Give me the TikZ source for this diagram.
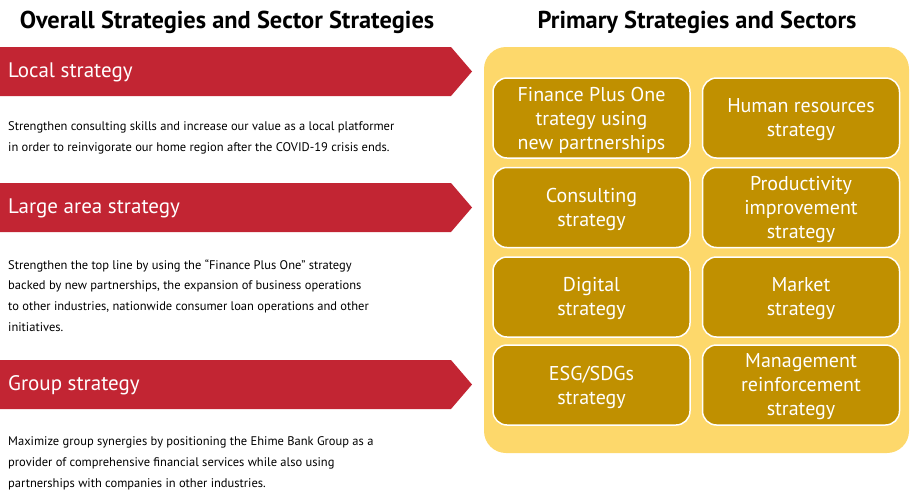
\documentclass[tikz,border=0pt]{standalone}
\usepackage{fontspec}
\setmainfont{PT Sans}
\definecolor{bannerred}{HTML}{C22533}
\definecolor{panelyellow}{HTML}{FDD86B}
\definecolor{boxgold}{HTML}{C09000}
\begin{document}
\begin{tikzpicture}[x=1pt,y=-1pt,
  banner/.style={fill=bannerred,draw=none},
  bannertext/.style={anchor=west,text=white,font=\fontsize{21}{24}\selectfont,inner sep=0pt},
  bodytext/.style={anchor=west,align=left,font=\fontsize{12.5}{20.8}\selectfont,inner sep=0pt},
  heading/.style={font=\bfseries\fontsize{24.4}{28}\selectfont,inner sep=0pt},
  goldbox/.style={fill=boxgold,draw=white,line width=1.5pt,rounded corners=14pt,minimum width=197pt,minimum height=80pt,
    text=white,align=center,font=\fontsize{20}{24}\selectfont,inner sep=0pt},
  boxlabel/.style={text=white,align=center,font=\fontsize{20}{24}\selectfont,inner sep=0pt}
]
\useasboundingbox (0,0) rectangle (918,491);
% headings
\node[heading] (h1) at (227,22) {Overall Strategies and Sector Strategies};
\node[heading] (h2) at (697,22) {Primary Strategies and Sectors};
% banners
\fill[banner] (0,47) -- (451,47) -- (472,71.5) -- (451,96) -- (0,96) -- cycle;
\fill[banner] (0,183) -- (451,183) -- (472,207.5) -- (451,232) -- (0,232) -- cycle;
\fill[banner] (0,360) -- (451,360) -- (472,384.5) -- (451,409) -- (0,409) -- cycle;
\node[bannertext] (b1) at (8,72.5) {Local strategy};
\node[bannertext] (b2) at (8,208.5) {Large area strategy};
\node[bannertext] (b3) at (8,385.5) {Group strategy};
% body texts
\node[bodytext] (t1) at (8,138) {Strengthen consulting skills and increase our value as a local platformer\\in order to reinvigorate our home region after the COVID-19 crisis ends.};
\node[bodytext] (t2) at (8,295.5) {Strengthen the top line by using the “Finance Plus One” strategy\\backed by new partnerships, the expansion of business operations\\to other industries, nationwide consumer loan operations and other\\initiatives.};
\node[bodytext] (t3) at (8,463) {Maximize group synergies by positioning the Ehime Bank Group as a\\provider of comprehensive financial services while also using\\partnerships with companies in other industries.};
% panel
\fill[panelyellow,rounded corners=22pt] (484,47) rectangle (909,453);
% boxes
\node[goldbox] (g1) at (591.5,118) {};
\node[goldbox] (g2) at (801,118) {};
\node[goldbox] (g3) at (591.5,207.5) {};
\node[goldbox] (g4) at (801,207.5) {};
\node[goldbox] (g5) at (591.5,297) {};
\node[goldbox] (g6) at (801,297) {};
\node[goldbox] (g7) at (591.5,385) {};
\node[goldbox] (g8) at (801,385) {};
\node[boxlabel] (l1) at ([yshift=-2pt]g1.center) {Finance Plus One\\trategy using\\new partnerships};
\node[boxlabel] (l2) at ([yshift=-2pt]g2.center) {Human resources\\strategy};
\node[boxlabel] (l3) at ([yshift=-2pt]g3.center) {Consulting\\strategy};
\node[boxlabel] (l4) at ([yshift=-2pt]g4.center) {Productivity\\improvement\\strategy};
\node[boxlabel] (l5) at ([yshift=-2pt]g5.center) {Digital\\strategy};
\node[boxlabel] (l6) at ([yshift=-2pt]g6.center) {Market\\strategy};
\node[boxlabel] (l7) at ([yshift=-2pt]g7.center) {ESG/SDGs\\strategy};
\node[boxlabel] (l8) at ([yshift=-2pt]g8.center) {Management\\reinforcement\\strategy};
\end{tikzpicture}
\end{document}
